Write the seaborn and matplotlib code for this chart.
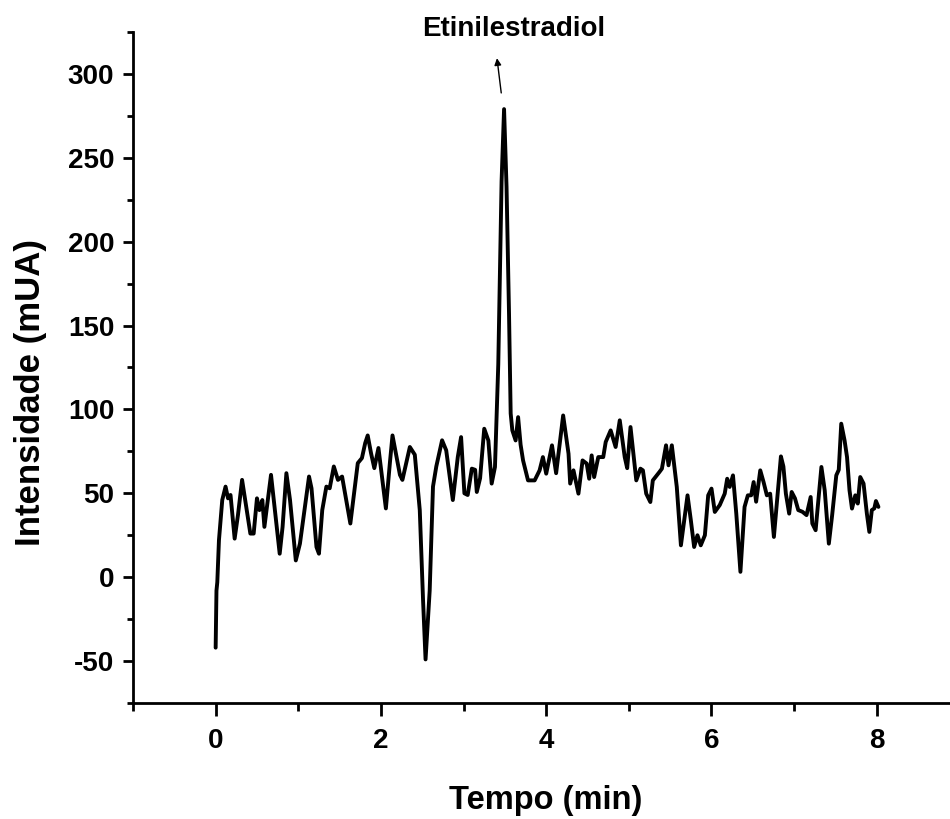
import matplotlib
matplotlib.use("Agg")
import matplotlib.pyplot as plt
from matplotlib.ticker import MultipleLocator
import seaborn as sns
import pandas as pd

# ---- data ----
time_min = [
    0.00, 0.01, 0.02, 0.04, 0.08, 0.12, 0.15, 0.18, 0.23, 0.27, 0.32, 0.37, 0.42, 0.46,
    0.50, 0.53, 0.565, 0.59, 0.67, 0.775, 0.81, 0.856, 0.90, 0.97, 1.02, 1.07, 1.13, 1.16,
    1.22, 1.25, 1.29, 1.34, 1.38, 1.43, 1.48, 1.53, 1.63, 1.72, 1.77, 1.81, 1.84, 1.88,
    1.92, 1.97, 2.06, 2.11, 2.14, 2.23, 2.26, 2.35, 2.41, 2.47, 2.51, 2.54, 2.59, 2.63,
    2.67, 2.74, 2.79, 2.87, 2.93, 2.97, 3.01, 3.05, 3.10, 3.14, 3.16, 3.20, 3.25, 3.30,
    3.34, 3.38, 3.42, 3.46, 3.49, 3.52, 3.55, 3.57, 3.59, 3.63, 3.66, 3.69, 3.72, 3.78,
    3.86, 3.92, 3.96, 4.00, 4.07, 4.12, 4.205, 4.27, 4.29, 4.33, 4.39, 4.44, 4.49, 4.52,
    4.55, 4.58, 4.63, 4.69, 4.72, 4.78, 4.84, 4.89, 4.95, 4.98, 5.02, 5.06, 5.09, 5.14,
    5.17, 5.21, 5.26, 5.29, 5.37, 5.40, 5.45, 5.48, 5.52, 5.58, 5.63, 5.67, 5.71, 5.75,
    5.79, 5.83, 5.87, 5.92, 5.96, 6.00, 6.04, 6.10, 6.16, 6.19, 6.22, 6.26, 6.30, 6.35,
    6.40, 6.44, 6.48, 6.51, 6.54, 6.59, 6.63, 6.67, 6.71, 6.755, 6.80, 6.84, 6.87, 6.90,
    6.94, 6.97, 7.01, 7.05, 7.10, 7.15, 7.20, 7.22, 7.26, 7.33, 7.37, 7.42, 7.46, 7.51,
    7.54, 7.57, 7.61, 7.64, 7.67, 7.70, 7.74, 7.77, 7.80, 7.84, 7.88, 7.91, 7.94, 7.97,
    7.99, 8.02,
]
intensity_mUA = [
    -42, -8, -3, 22, 46, 54, 47, 49, 23, 37, 58, 42, 26, 26,
    47, 40, 46, 30, 61, 14, 30, 62, 46, 10, 20, 38, 60, 53,
    18, 14, 40, 54, 53, 66, 58, 60, 32, 68, 71, 80, 84.5, 74,
    65, 77, 41, 69, 84.5, 61, 58, 77.6, 73, 40, -14, -49, -8, 54,
    66, 81.6, 75.6, 46, 71.6, 83.5, 50, 49, 64.7, 64, 50.8, 59, 88.5, 81.5,
    55.8, 65.7, 127, 236, 279, 232.6, 157, 97.6, 87.5, 81.5, 95.4, 79, 69.6, 57.7,
    57.7, 63.7, 71.6, 61.7, 78.6, 62, 96.4, 73.6, 55.8, 63.7, 49.8, 69.6, 67.7, 58.7,
    72.6, 59.7, 71.6, 71.6, 80.6, 87.5, 77.6, 93.5, 71.6, 65, 89.5, 71.6, 57.7, 64.7,
    63.7, 49.8, 44.8, 57.7, 62.7, 64.7, 78.6, 66.7, 78.6, 53.8, 19, 34, 48.8, 34,
    18, 25, 19, 25, 48.8, 52.8, 38.9, 43, 49.8, 58.7, 53.8, 60.7, 37.9, 3.2,
    41.9, 48.8, 48.8, 56.7, 45, 63.7, 56.7, 48.8, 49.8, 24, 49.8, 72, 66, 49.8,
    37.9, 50.8, 47, 40, 39, 37, 47.8, 32, 28, 65.7, 51.8, 20, 37, 60.7,
    64, 91.5, 81.6, 71.6, 51.8, 40.9, 48.8, 43.9, 59.7, 55.8, 37.9, 27, 40, 41,
    45.4, 41.9,
]
peak_label = "Etinilestradiol"
x_ticks = [0, 2, 4, 6, 8]
y_ticks = [-50, 0, 50, 100, 150, 200, 250, 300]
x_label = "Tempo (min)"
y_label = "Intensidade (mUA)"

df = pd.DataFrame({"Tempo": time_min, "Intensidade": intensity_mUA})

sns.set_style("ticks")
plt.rcParams["font.family"] = ["Liberation Sans", "DejaVu Sans"]
plt.rcParams["font.weight"] = "bold"
plt.rcParams["axes.unicode_minus"] = False
for key in ["text.color", "axes.labelcolor", "xtick.color", "ytick.color", "axes.edgecolor"]:
    plt.rcParams[key] = "black"

fig = plt.figure(figsize=(9.5, 8.19), dpi=100)
ax = fig.add_axes([0.14, 0.1416, 0.86, 0.8194])

sns.lineplot(data=df, x="Tempo", y="Intensidade", color="black", linewidth=2.8,
             estimator=None, sort=False, ax=ax)

ax.set_xlim(-1.0, 8.886)
ax.set_ylim(-75, 325)
ax.set_xticks(x_ticks)
ax.set_yticks(y_ticks)
ax.xaxis.set_minor_locator(MultipleLocator(1))
ax.yaxis.set_minor_locator(MultipleLocator(25))

for s in ["top", "right"]:
    ax.spines[s].set_visible(False)
for s in ["left", "bottom"]:
    ax.spines[s].set_linewidth(2.0)
    ax.spines[s].set_color("black")

ax.tick_params(axis="both", which="major", direction="out", width=2.0, color="black",
               labelcolor="black", labelsize=20)
ax.tick_params(axis="x", which="major", length=9, pad=9)
ax.tick_params(axis="x", which="minor", length=6, width=2.0, direction="out", color="black")
ax.tick_params(axis="y", which="major", length=7.5, pad=6)
ax.tick_params(axis="y", which="minor", length=4.5, width=2.0, direction="out", color="black")
for lab in ax.get_xticklabels() + ax.get_yticklabels():
    lab.set_fontweight("bold")

ax.set_xlabel(x_label, fontsize=23.5, fontweight="bold", color="black")
ax.set_ylabel(y_label, fontsize=25, fontweight="bold", color="black")
ax.xaxis.set_label_coords(0.505, -0.122)
ax.yaxis.set_label_coords(-0.105, 0.462)

ax.annotate("", xy=(3.40, 311), xytext=(3.46, 287),
            arrowprops=dict(arrowstyle="-|>", color="black", lw=1.0, mutation_scale=10),
            annotation_clip=False)
ax.text(3.61, 326.8, peak_label, ha="center", va="center", fontsize=20,
        fontweight="bold", color="black", clip_on=False)

fig.savefig("out.png", dpi=100)
